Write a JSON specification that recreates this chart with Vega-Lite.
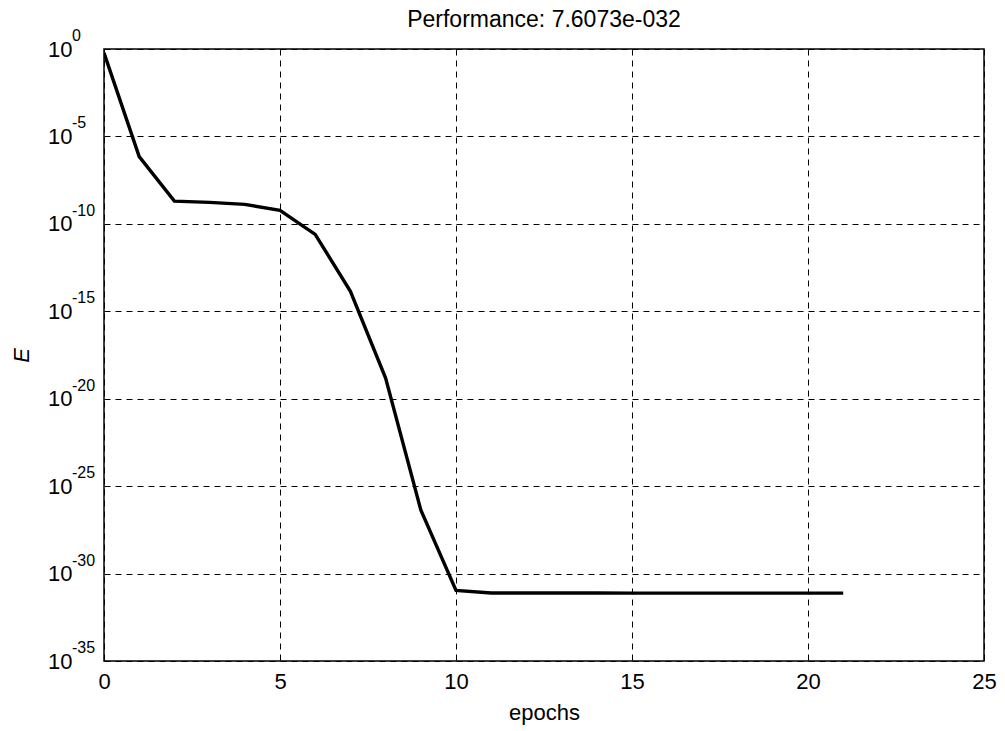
{
  "$schema": "https://vega.github.io/schema/vega-lite/v6.json",
  "autosize": {"type": "none"},
  "padding": {"left": 104, "top": 49, "right": 21, "bottom": 70},
  "width": 880,
  "height": 612,
  "background": "white",
  "title": {
    "text": "Performance: 7.6073e-032",
    "font": "Liberation Sans",
    "fontSize": 23,
    "fontWeight": "normal",
    "color": "black",
    "anchor": "middle",
    "offset": 8,
    "dy": 12
  },
  "config": {
    "view": {"stroke": "black", "strokeWidth": 1.5},
    "axis": {
      "labelFont": "Liberation Sans",
      "labelFontSize": 22,
      "labelColor": "black",
      "titleFont": "Liberation Sans",
      "titleFontWeight": "normal",
      "titleColor": "black",
      "grid": true,
      "gridColor": "black",
      "gridDash": [6, 5],
      "gridWidth": 1,
      "gridOpacity": 1,
      "ticks": false,
      "domain": false
    }
  },
  "layer": [
    {
      "data": {
        "values": [
          {"epoch": 0, "E": 0.6},
          {"epoch": 1, "E": 7e-7},
          {"epoch": 2, "E": 2e-9},
          {"epoch": 3, "E": 1.7e-9},
          {"epoch": 4, "E": 1.3e-9},
          {"epoch": 5, "E": 6e-10},
          {"epoch": 6, "E": 2.5e-11},
          {"epoch": 7, "E": 1.4e-14},
          {"epoch": 8, "E": 1.5e-19},
          {"epoch": 9, "E": 4.4e-27},
          {"epoch": 10, "E": 1.1e-31},
          {"epoch": 11, "E": 7.7e-32},
          {"epoch": 12, "E": 7.7e-32},
          {"epoch": 13, "E": 7.7e-32},
          {"epoch": 14, "E": 7.7e-32},
          {"epoch": 15, "E": 7.6e-32},
          {"epoch": 16, "E": 7.6e-32},
          {"epoch": 17, "E": 7.6e-32},
          {"epoch": 18, "E": 7.6e-32},
          {"epoch": 19, "E": 7.6e-32},
          {"epoch": 20, "E": 7.6073e-32},
          {"epoch": 21, "E": 7.6073e-32}
        ]
      },
      "mark": {"type": "line", "color": "black", "strokeWidth": 3.4, "strokeJoin": "miter", "clip": true},
      "encoding": {
        "x": {
          "field": "epoch",
          "type": "quantitative",
          "scale": {"domain": [0, 25], "nice": false, "zero": false},
          "axis": {
            "values": [0, 5, 10, 15, 20, 25],
            "title": "epochs",
            "titleFontSize": 22,
            "titlePadding": 10,
            "labelPadding": 10,
            "labelFlush": false
          }
        },
        "y": {
          "field": "E",
          "type": "quantitative",
          "scale": {"type": "log", "domain": [1e-35, 1], "nice": false},
          "axis": {
            "values": [1e-35, 1e-30, 1e-25, 1e-20, 1e-15, 1e-10, 1e-5, 1],
            "title": "E",
            "titleFontSize": 22,
            "titleFontStyle": "italic",
            "titlePadding": 14,
            "labelPadding": 32,
            "labelFlush": false,
            "labelExpr": "'10'"
          }
        }
      }
    },
    {
      "data": {
        "values": [
          {"v": 1, "exp": "0"},
          {"v": 1e-5, "exp": "-5"},
          {"v": 1e-10, "exp": "-10"},
          {"v": 1e-15, "exp": "-15"},
          {"v": 1e-20, "exp": "-20"},
          {"v": 1e-25, "exp": "-25"},
          {"v": 1e-30, "exp": "-30"},
          {"v": 1e-35, "exp": "-35"}
        ]
      },
      "mark": {
        "type": "text",
        "align": "left",
        "baseline": "alphabetic",
        "dx": -32,
        "dy": -8,
        "font": "Liberation Sans",
        "fontSize": 16,
        "color": "black",
        "clip": false
      },
      "encoding": {
        "x": {"datum": 0},
        "y": {"field": "v", "type": "quantitative"},
        "text": {"field": "exp"}
      }
    }
  ]
}
